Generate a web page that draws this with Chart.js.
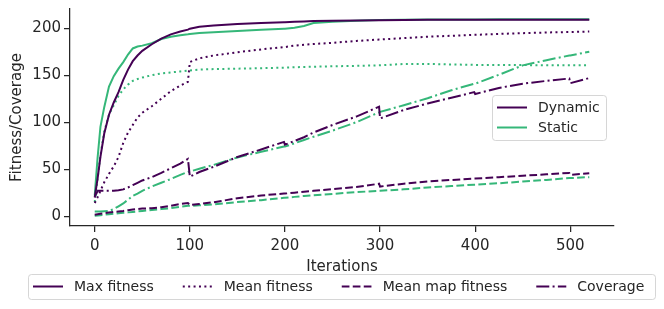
<!DOCTYPE html>
<html>
<head>
<meta charset="utf-8">
<script src="https://cdn.jsdelivr.net/npm/chart.js@4"></script>
<style>
  html, body { margin: 0; padding: 0; background: #fff; }
</style>
</head>
<body>
<canvas id="chart" width="664" height="309"></canvas>
<script>
// iterations (resets at 100 / 300 / 500 kept as pairs)
const iterations = [0, 3, 6, 10, 15, 20, 25, 30, 35, 40, 45, 50, 60, 70, 80, 90, 98, 100, 110, 125, 150, 175, 199, 200, 210, 220, 230, 250, 275, 299, 300, 325, 350, 375, 399, 400, 425, 450, 475, 499, 500, 520];

const dynamicMax = [20, 40, 63, 88, 108, 121, 132, 145, 156, 165, 171, 176, 183, 189, 193.5, 196.5, 198.5, 199.5, 201.5, 203, 204.5, 205.5, 206.5, 206.5, 207, 207.3, 207.6, 208, 208.3, 208.6, 208.6, 208.8, 209, 209, 209, 209, 209, 209, 209, 209, 209, 209];
const staticMax = [22, 62, 95, 116, 138, 149, 157, 164, 172, 178.5, 180.5, 181.5, 184, 188.5, 191, 192.5, 193.5, 193.8, 195, 195.8, 197, 198.5, 199.5, 199.5, 200.5, 202.5, 205.5, 207, 208, 208.8, 208.8, 209, 209.2, 209.3, 209.4, 209.4, 209.5, 209.5, 209.5, 209.5, 209.5, 209.5];

const dynamicMean = [14, 20, 27, 36, 45, 53, 63, 78, 89, 97, 105, 110, 117, 125, 133, 139, 143, 164, 168, 171, 174.5, 177.5, 180, 180, 181.5, 182.5, 183.2, 184.5, 186.5, 188, 188, 189.5, 191, 192, 193, 193, 194, 194.8, 195.5, 196, 196, 196.5];
const staticMean = [15, 40, 65, 90, 108, 118, 128, 135, 140, 144, 146, 147.5, 150, 152, 153, 154, 155, 155, 156, 156.5, 157, 157.5, 158, 158, 158.5, 158.8, 159, 159.5, 160, 160.5, 160.5, 162, 162, 161.5, 161, 161, 161, 160.8, 160.6, 160.5, 160.5, 160.5];

const dynamicMapFitness = [1.5, 2, 2.5, 3, 3.8, 4.5, 5, 5.5, 6.3, 7, 7.5, 8, 8.5, 9.5, 11, 13, 14, 12, 13, 14.8, 19, 22, 24, 24, 25, 26, 27, 28.8, 31, 34.5, 31.5, 34.5, 37, 38.5, 40, 40, 41.5, 43, 44.5, 46, 44, 45.7];
const staticMapFitness = [0.5, 0.7, 1, 1.5, 2, 2.5, 3, 3.5, 4, 4.5, 5, 5.5, 6.5, 7.5, 8.5, 10, 11, 11, 11.5, 12.5, 15, 17, 19.5, 19.5, 20.5, 21.5, 22.3, 23.7, 25.5, 27, 27, 28.5, 30.5, 32, 33.5, 33.5, 35, 36.8, 38.5, 40.5, 40.5, 41.5];

const dynamicCoverage = [20, 27, 27, 27, 27, 27, 27.5, 28.5, 30.5, 33, 35.5, 38, 41.5, 46, 51, 56, 61, 42, 47, 52.5, 63, 71, 79, 76, 80, 84, 89, 97, 106, 116.5, 104, 113, 120, 126, 132, 130, 136.5, 141, 144, 146.5, 141.5, 147];
const staticCoverage = [5, 5, 5, 5.2, 5.5, 7.5, 10.5, 13.5, 17.5, 21.5, 24, 27, 31.5, 35.5, 39.5, 44, 47, 47.5, 50.5, 54.5, 62.5, 68.5, 74, 74, 77.5, 81, 84.5, 91, 100, 110.5, 111, 118, 125.5, 134, 141, 141, 150.5, 160.5, 166, 171, 171, 175];

const xTicks = [0, 100, 200, 300, 400, 500];
const yTicks = [0, 50, 100, 150, 200];

const DYNAMIC = "#440154";
const STATIC = "#35b779";
const INK = "#262626";

const styles = {
  max: [],
  mean: [2, 3.4],
  map: [7.7, 3.3],
  coverage: [13, 3.3, 2, 3.3],
};

Chart.defaults.font.family = "'DejaVu Sans'";
Chart.defaults.font.size = 15;
Chart.defaults.color = INK;

function series(values, color, dash) {
  return {
    data: iterations.map((it, i) => ({ x: it, y: values[i] })),
    borderColor: color,
    borderWidth: 2,
    borderDash: dash,
    pointRadius: 0,
    tension: 0,
    fill: false,
  };
}

function frame(ctx, x, y, w, h) {
  ctx.save();
  ctx.fillStyle = "rgba(255,255,255,0.8)";
  ctx.strokeStyle = "rgba(204,204,204,0.8)";
  ctx.lineWidth = 1;
  ctx.beginPath();
  ctx.roundRect(x, y, w, h, 3);
  ctx.fill();
  ctx.stroke();
  ctx.restore();
}

function handle(ctx, x, y, color, dash) {
  ctx.save();
  ctx.strokeStyle = color;
  ctx.lineWidth = 2;
  ctx.setLineDash(dash);
  ctx.beginPath();
  ctx.moveTo(x, y);
  ctx.lineTo(x + 30, y);
  ctx.stroke();
  ctx.restore();
}

// both legends are drawn by hand, matplotlib style
const legends = {
  id: "legends",
  afterDraw(chart) {
    const ctx = chart.ctx;
    ctx.save();
    ctx.font = "14px 'DejaVu Sans'";
    ctx.textBaseline = "middle";
    ctx.fillStyle = INK;

    // inner legend: colours
    frame(ctx, 492.5, 95.5, 114, 45);
    [["Dynamic", DYNAMIC], ["Static", STATIC]].forEach(([label, color], i) => {
      const y = 107.5 + i * 20;
      handle(ctx, 497, y, color, []);
      ctx.fillStyle = INK;
      ctx.fillText(label, 538, y + 1);
    });

    // bottom legend: line styles
    frame(ctx, 28.5, 274.5, 627, 25);
    const entries = [
      ["Max fitness", styles.max],
      ["Mean fitness", styles.mean],
      ["Mean map fitness", styles.map],
      ["Coverage", styles.coverage],
    ];
    let x = 33;
    entries.forEach(([label, dash]) => {
      handle(ctx, x, 286.5, DYNAMIC, dash);
      ctx.fillStyle = INK;
      ctx.fillText(label, x + 41, 287.5);
      x += 41 + ctx.measureText(label).width + 29;
    });
    ctx.restore();
  },
};

const axisLine = { color: INK, width: 1.25 };
const tickMarks = { drawOnChartArea: false, drawTicks: true, tickLength: 6, color: INK, lineWidth: 1.25 };

new Chart(document.getElementById("chart"), {
  type: "line",
  data: {
    datasets: [
      series(dynamicMax, DYNAMIC, styles.max),
      series(staticMax, STATIC, styles.max),
      series(dynamicMean, DYNAMIC, styles.mean),
      series(staticMean, STATIC, styles.mean),
      series(dynamicMapFitness, DYNAMIC, styles.map),
      series(staticMapFitness, STATIC, styles.map),
      series(dynamicCoverage, DYNAMIC, styles.coverage),
      series(staticCoverage, STATIC, styles.coverage),
    ],
  },
  options: {
    responsive: false,
    animation: false,
    layout: { padding: { top: 9, right: 50, left: 0, bottom: 33 } },
    plugins: { legend: false, tooltip: { enabled: false } },
    scales: {
      x: {
        type: "linear",
        min: -26,
        max: 546,
        border: axisLine,
        grid: tickMarks,
        ticks: { padding: 5, color: INK },
        afterBuildTicks: (scale) => { scale.ticks = xTicks.map((v) => ({ value: v })); },
        afterFit: (scale) => { scale.height = 50; },
        title: { display: true, text: "Iterations", color: INK, padding: { top: 0, bottom: 0 } },
      },
      y: {
        type: "linear",
        min: -10.5,
        max: 220.5,
        border: axisLine,
        grid: tickMarks,
        ticks: { padding: 3, color: INK },
        afterBuildTicks: (scale) => { scale.ticks = yTicks.map((v) => ({ value: v })); },
        afterFit: (scale) => {
          scale.width = 70;
          scale.paddingTop = 0;
          scale.paddingBottom = 0;
        },
        title: { display: true, text: "Fitness/Coverage", color: INK, padding: { top: 8, bottom: 0 } },
      },
    },
  },
  plugins: [legends],
});
</script>
</body>
</html>
